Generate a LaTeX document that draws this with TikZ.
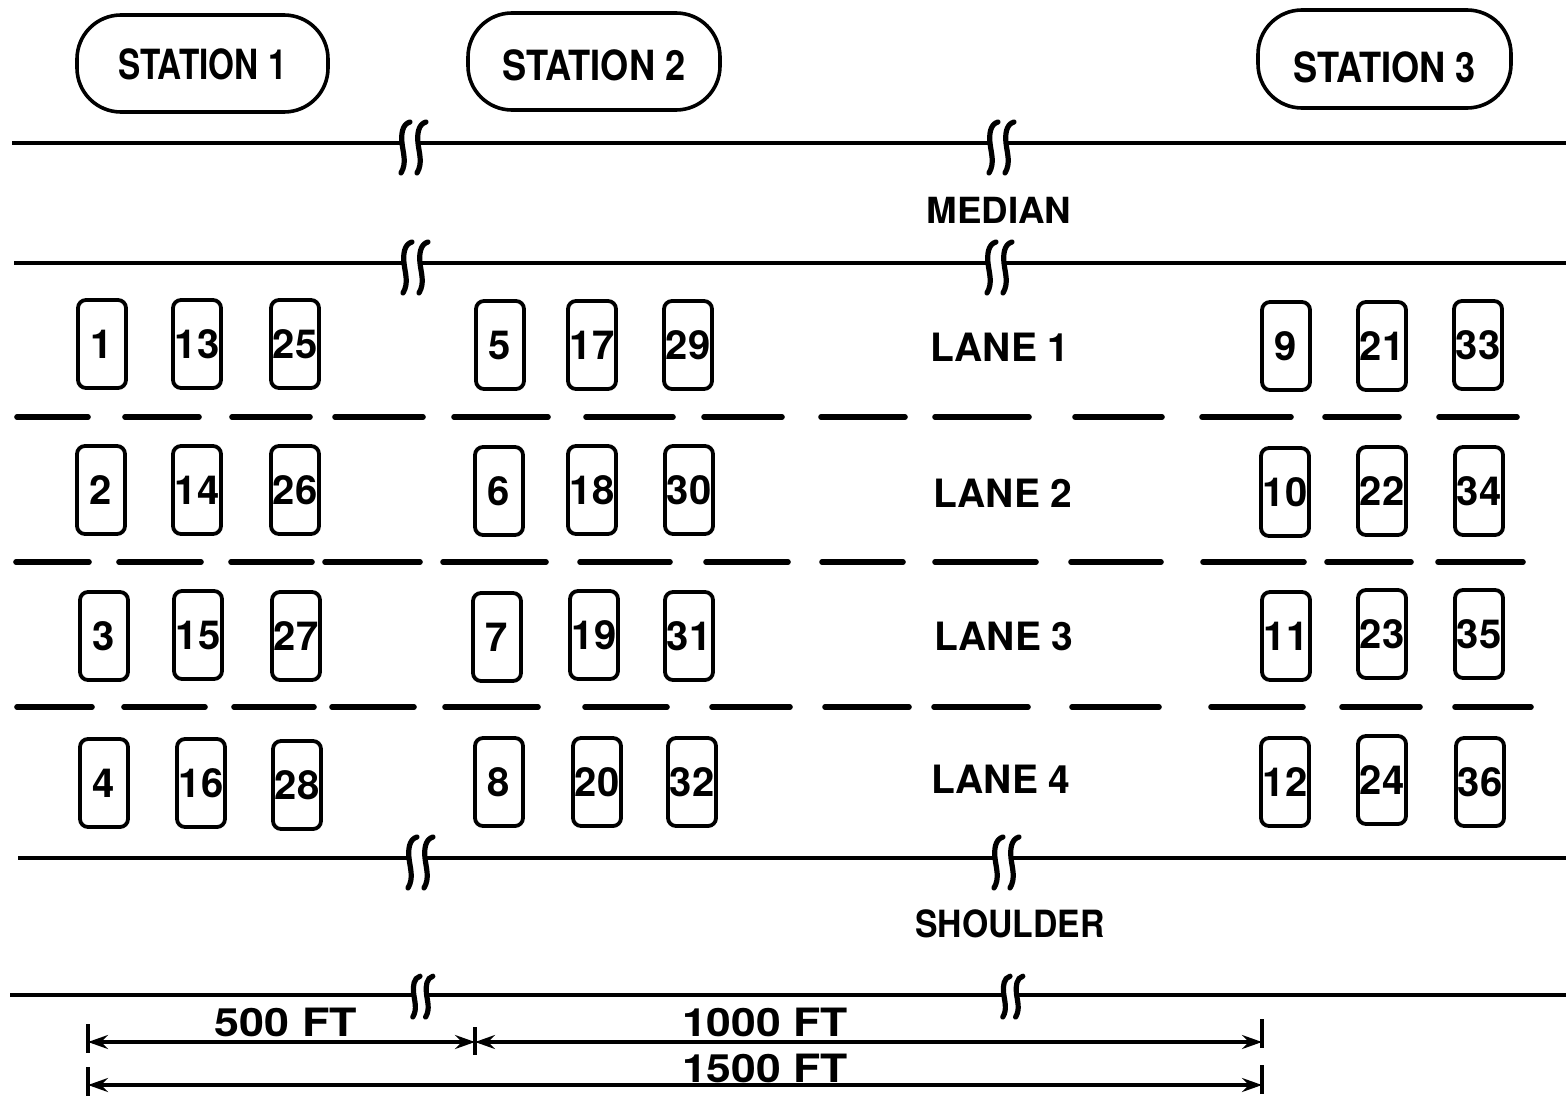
\documentclass[tikz,border=0pt]{standalone}
\usepackage{fontspec}
\setmainfont{TeX Gyre Heros}
\usepackage{graphicx}
\usetikzlibrary{arrows.meta}
\newcommand\hsc[2]{\scalebox{#1}[1]{#2}}
\tikzset{
  brkstroke/.style={line width=2.6pt, line cap=round},
  brkmark/.pic={
    \draw[brkstroke] (0,-21) .. controls (-8,-19) and (-9,-8) .. (-8,0) .. controls (-7,10) and (-3,20) .. (-9,30);
    \draw[brkstroke] (16,-21) .. controls (8,-19) and (7,-8) .. (8,0) .. controls (9,10) and (13,20) .. (7,30);
  }
}
\begin{document}
\begin{tikzpicture}[x=0.5pt,y=-0.5pt,
  road/.style={line width=2pt},
  lanedash/.style={line width=2.8pt, line cap=round},
  car/.style={draw, line width=1.9pt, rounded corners=4pt, minimum width=24pt, minimum height=44pt, inner sep=0pt, font=\fontsize{20}{20}\selectfont\bfseries},
  station/.style={draw, line width=1.8pt, rounded corners=22pt, inner sep=0pt, text depth=0pt, font=\fontsize{20.8}{22}\selectfont\bfseries},
  lbl/.style={inner sep=0pt, font=\fontsize{19.5}{20}\selectfont\bfseries},
  dim/.style={line width=1.6pt},
  tick/.style={line width=2.2pt}]
\useasboundingbox (0,0) rectangle (1566,1097);

% stations
\node[station, minimum width=125.5pt, minimum height=48.5pt, text height=16.5pt] (st1) at (202.5,63.5) {\hsc{0.8}{STATION 1}};
\node[station, minimum width=126pt, minimum height=48.5pt, text height=19.5pt] (st2) at (594,61.5) {\hsc{0.87}{STATION 2}};
\node[station, minimum width=126.5pt, minimum height=49pt, text height=24pt] (st3) at (1384.5,59) {\hsc{0.87}{STATION 3}};

% road edges with break marks
\draw[road] (12,143) -- (402,143) (418,143) -- (990,143) (1006,143) -- (1566,143);
\pic at (410,143) {brkmark};
\pic at (998,143) {brkmark};
\draw[road] (14,263) -- (404,263) (420,263) -- (988,263) (1004,263) -- (1566,263);
\pic at (412,263) {brkmark};
\pic at (996,263) {brkmark};
\draw[road] (18,858) -- (409,858) (425,858) -- (995,858) (1011,858) -- (1566,858);
\pic at (417,858) {brkmark};
\pic at (1003,858) {brkmark};
\draw[road] (10,995) -- (413,995) (427,995) -- (1003,995) (1017,995) -- (1566,995);
\pic[scale=0.8] at (420,993) {brkmark};
\pic[scale=0.8] at (1010,993) {brkmark};

% lane dividers
\foreach \a/\b in {17/88,125/199,232/310,335/423,454/548,586/673,704/782,821/905,935/1029,1075/1162,1202/1291,1325/1399,1439/1517}
  \draw[lanedash] (\a,417) -- (\b,417);
\foreach \a/\b in {16/89,119/201,231/312,325/420,443/546,580/670,706/788,822/903,935/1036,1071/1161,1203/1304,1327/1411,1438/1523}
  \draw[lanedash] (\a,562) -- (\b,562);
\foreach \a/\b in {17/92,124/205,234/314,332/414,445/538,585/667,712/790,825/909,934/1028,1072/1159,1211/1303,1342/1420,1455/1531}
  \draw[lanedash] (\a,707) -- (\b,707);

% detector boxes
\foreach \n/\x/\y in {
  1/102/344, 13/197/344, 25/295/344, 5/500/345, 17/592/345, 29/688/345, 9/1286/346, 21/1382/346, 33/1478/345,
  2/101/490, 14/197/490, 26/295/490, 6/499/491, 18/592/490, 30/689/490, 10/1285/492, 22/1382/491, 34/1479/491,
  3/104/636, 15/198/635, 27/296/636, 7/497/637, 19/594/635, 31/689/636, 11/1286/636, 23/1382/634, 35/1479/634,
  4/104/783, 16/201/783, 28/297/785, 8/499/782, 20/597/782, 32/692/782, 12/1285/782, 24/1382/780, 36/1480/782}
  \node[car] (c\n) at (\x,\y) {\n};

% labels
\node[lbl, font=\fontsize{18}{18}\selectfont\bfseries] (median) at (999,210) {\hsc{1.02}{MEDIAN}};
\node[lbl] (lane1) at (1000,347) {LANE 1};
\node[lbl] (lane2) at (1003,493) {LANE 2};
\node[lbl] (lane3) at (1004,636) {LANE 3};
\node[lbl] (lane4) at (1001,779) {LANE 4};
\node[lbl, font=\fontsize{18.75}{19}\selectfont\bfseries] (shoulder) at (1010,924) {\hsc{0.9}{SHOULDER}};

% dimensions
\coordinate (dL1) at (88,1042);
\coordinate (dM1) at (475,1042);
\coordinate (dR1) at (1262,1042);
\coordinate (dL2) at (88,1085);
\coordinate (dR2) at (1262,1085);
\draw[tick] (88,1024) -- (88,1053);
\draw[tick] (475,1027) -- (475,1055);
\draw[tick] (1262,1019) -- (1262,1048);
\draw[tick] (88,1067) -- (88,1096);
\draw[tick] (1262,1065) -- (1262,1094);
\draw[dim, {Stealth[length=10pt,width=7pt,inset=3.5pt]}-{Stealth[length=10pt,width=7pt,inset=3.5pt]}] (dL1) -- (dM1);
\draw[dim, {Stealth[length=10pt,width=7pt,inset=3.5pt]}-{Stealth[length=10pt,width=7pt,inset=3.5pt]}] (dM1) -- (dR1);
\draw[dim, {Stealth[length=10pt,width=7pt,inset=3.5pt]}-{Stealth[length=10pt,width=7pt,inset=3.5pt]}] (dL2) -- (dR2);
\node[lbl] (d500) at (286,1022) {\hsc{1.15}{500 FT}};
\node[lbl] (d1000) at (765,1022) {\hsc{1.14}{1000 FT}};
\node[lbl] (d1500) at (765,1068) {\hsc{1.14}{1500 FT}};
\end{tikzpicture}
\end{document}
